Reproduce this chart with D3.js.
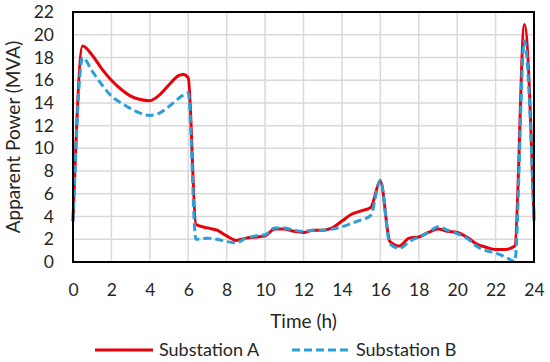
<!DOCTYPE html>
<html><head><meta charset="utf-8">
<script src="https://cdn.jsdelivr.net/npm/d3@7"></script>
<style>body{margin:0;background:#fff}svg{display:block}text{font-family:Lato,"Open Sans",sans-serif;fill:#262626}</style>
</head><body><svg id="c" width="550" height="362"></svg>
<script>
const times = [0,0.5,1,1.5,2,2.5,3,3.5,4,4.5,5,5.5,5.75,6,6.4,7,7.5,8,8.5,9,9.5,10,10.5,11,11.5,12,12.5,13,13.5,14,14.5,15,15.5,16,16.5,17,17.5,18,18.5,19,19.5,20,20.5,21,21.5,22,22.5,23,23.5,24];
const substationA = [3.6,19.0,18.2,17.0,16.0,15.2,14.6,14.3,14.2,14.7,15.6,16.4,16.5,16.2,3.3,3.0,2.8,2.3,1.9,2.1,2.2,2.3,2.9,2.9,2.7,2.6,2.8,2.8,3.0,3.6,4.2,4.5,4.8,7.1,1.8,1.4,2.1,2.2,2.6,2.9,2.7,2.6,2.2,1.6,1.3,1.1,1.1,1.4,20.9,3.8];
const substationB = [3.6,18.0,16.8,15.6,14.6,14.0,13.5,13.1,12.9,13.1,13.7,14.4,14.7,14.9,2.0,2.1,2.0,1.8,1.7,2.1,2.3,2.4,3.0,3.0,2.8,2.7,2.8,2.8,2.9,3.1,3.4,3.7,4.1,7.2,1.6,1.2,1.8,2.2,2.6,3.1,2.8,2.5,2.1,1.4,1.0,0.8,0.45,0.05,19.5,3.6];
const xTicks = [0,2,4,6,8,10,12,14,16,18,20,22,24];
const yTicks = [0,2,4,6,8,10,12,14,16,18,20,22];
const seriesNames = ["Substation A","Substation B"];
const colors = ["#e8000b","#2a9fd8"];

const svg = d3.select("#c");
const L=73,R=534,T=12,B=262;
const x = d3.scaleLinear().domain([0,24]).range([L,R]);
const y = d3.scaleLinear().domain([0,22]).range([B,T]);

// grid
svg.append("g").selectAll("line").data(xTicks).join("line")
  .attr("x1",d=>x(d)).attr("x2",d=>x(d)).attr("y1",T).attr("y2",B)
  .attr("stroke","#d9d9d9").attr("stroke-width",1.5);
svg.append("g").selectAll("line").data(yTicks).join("line")
  .attr("x1",L).attr("x2",R).attr("y1",d=>y(d)).attr("y2",d=>y(d))
  .attr("stroke","#d9d9d9").attr("stroke-width",1.5);

// axes tick labels
const xa = svg.append("g").attr("transform",`translate(0,${B})`)
  .call(d3.axisBottom(x).tickValues(xTicks).tickSize(0).tickPadding(22));
xa.select(".domain").remove();
xa.selectAll("text").style("font-size","17.5px").style("font-family","Lato").attr("fill","#262626");
const ya = svg.append("g").attr("transform",`translate(${L},0)`)
  .call(d3.axisLeft(y).tickValues(yTicks).tickSize(0).tickPadding(19));
ya.select(".domain").remove();
ya.selectAll("text").style("font-size","17.5px").style("font-family","Lato").attr("fill","#262626");

// lines
const line = (vals)=>d3.line().x((d,i)=>x(times[i])).y(d=>y(d)).curve(d3.curveMonotoneX)(vals);
svg.append("path").attr("d",line(substationA)).attr("fill","none")
  .attr("stroke",colors[0]).attr("stroke-width",3);
svg.append("path").attr("d",line(substationB)).attr("fill","none")
  .attr("stroke",colors[1]).attr("stroke-width",3).attr("stroke-dasharray","8,4");

// box
svg.append("rect").attr("x",L).attr("y",T).attr("width",R-L).attr("height",B-T)
  .attr("fill","none").attr("stroke","#000").attr("stroke-width",2);

// titles
svg.append("text").attr("transform",`translate(20,${(T+B)/2}) rotate(-90)`)
  .attr("text-anchor","middle").style("font-size","19px").text("Apparent Power (MVA)");
svg.append("text").attr("x",(L+R)/2).attr("y",328).attr("text-anchor","middle")
  .style("font-size","19px").text("Time (h)");

// legend
const leg = [{x1:95,x2:153,tx:159},{x1:292,x2:350,tx:356}];
leg.forEach((l,i)=>{
  svg.append("line").attr("x1",l.x1).attr("x2",l.x2).attr("y1",350).attr("y2",350)
    .attr("stroke",colors[i]).attr("stroke-width",3).attr("stroke-dasharray",i?"8,4":null);
  svg.append("text").attr("x",l.tx).attr("y",356).style("font-size","18px").text(seriesNames[i]);
});
</script></body></html>
